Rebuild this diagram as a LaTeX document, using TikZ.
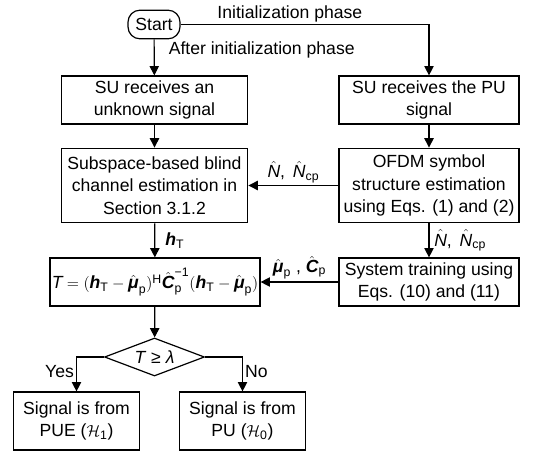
\documentclass[tikz,border=0pt]{standalone}
\usepackage{amsmath}
\usepackage{fontspec}
\setmainfont{Liberation Sans}
\usetikzlibrary{arrows.meta,shapes.geometric}

\newcommand{\bfit}[1]{\text{\bfseries\itshape #1}}
\newcommand{\itx}[1]{\text{\itshape #1}}
\newcommand{\Nlabel}{$\hat{\itx{N}}$, \,$\hat{\itx{N}}_{\text{cp}}$}

\tikzset{
  box/.style={draw, line width=0.9pt, align=center, inner sep=1pt},
  colbox/.style={box, minimum width=140pt},
  sidebox/.style={box, minimum width=135pt},
  arr/.style={line width=0.9pt, -{Triangle[length=7pt,width=7pt]}},
  lbl/.style={inner sep=1.5pt}
}

\begin{document}
\begin{tikzpicture}[x=0.75pt, y=-0.75pt, font=\fontsize{13.2}{16.9}\selectfont]
  \useasboundingbox (0,0) rectangle (548,452);

  % left column
  \node (start) [draw, line width=0.9pt, rounded corners=9pt, minimum width=39pt,
    minimum height=21.5pt, inner sep=1pt] at (154,24.5) {Start};
  \node (recv) [colbox, minimum height=36pt] at (154.5,100) {SU receives an\\unknown signal};
  \node (blind) [colbox, minimum height=56pt] at (154.5,185.5)
    {Subspace-based blind\\channel estimation in\\Section 3.1.2};
  \node (stat) [box, minimum width=157.5pt, minimum height=36pt] at (155,282)
    {$\itx{T} = (\bfit{h}_{\text{T}} - \hat{\bfit{μ}}_{\text{p}})^{\text{H}}
      \hat{\bfit{C}}_{\text{p}}^{\text{−1}}(\bfit{h}_{\text{T}} - \hat{\bfit{μ}}_{\text{p}})$};
  \node (test) [draw, line width=0.9pt, diamond, aspect=2.6, inner sep=0pt,
    minimum width=75pt, minimum height=28.5pt] at (154.5,357) {\textit{T} ≥ \textit{λ}};
  \node (pue) [box, minimum width=95pt, minimum height=43.5pt] at (76.5,421)
    {Signal is from\\PUE ($\mathcal{H}_{\text{1}}$)};
  \node (pu) [box, minimum width=95pt, minimum height=43.5pt] at (242.5,421)
    {Signal is from\\PU ($\mathcal{H}_{\text{0}}$)};

  % right column
  \node (recvpu) [sidebox, minimum height=36pt] at (429,100) {SU receives the PU\\signal};
  \node (ofdm) [sidebox, minimum height=56pt] at (429,185.5)
    {OFDM symbol\\structure estimation\\using Eqs. (1) and (2)};
  \node (train) [sidebox, minimum height=36pt] at (429,282)
    {System training using\\Eqs. (10) and (11)};

  \draw[arr] (start.east) -| node[lbl, pos=0.22, above] {Initialization phase} (recvpu.north);
  \draw[arr] (start) -- node[lbl, pos=0.3, right, xshift=9pt] {After initialization phase} (recv);
  \draw[arr] (recv) -- (blind);
  \draw[arr] (recvpu) -- (ofdm);
  \draw[arr] (ofdm) -- node[lbl, above] {\Nlabel} (blind);
  \draw[arr] (blind) -- node[lbl, right, xshift=6pt] {$\bfit{h}_{\text{T}}$} (stat);
  \draw[arr] (ofdm) -- node[lbl, right, xshift=2pt] {\Nlabel} (train);
  \draw[arr] (train) -- node[lbl, above]
    {$\hat{\bfit{μ}}_{\text{p}}$ , $\hat{\bfit{C}}_{\text{p}}$} (stat);
  \draw[arr] (stat) -- (test);
  \draw[arr] (test.west) -| node[lbl, pos=0.71, left] {Yes} (pue.north);
  \draw[arr] (test.east) -| node[lbl, pos=0.71, right] {No} (pu.north);
\end{tikzpicture}
\end{document}
